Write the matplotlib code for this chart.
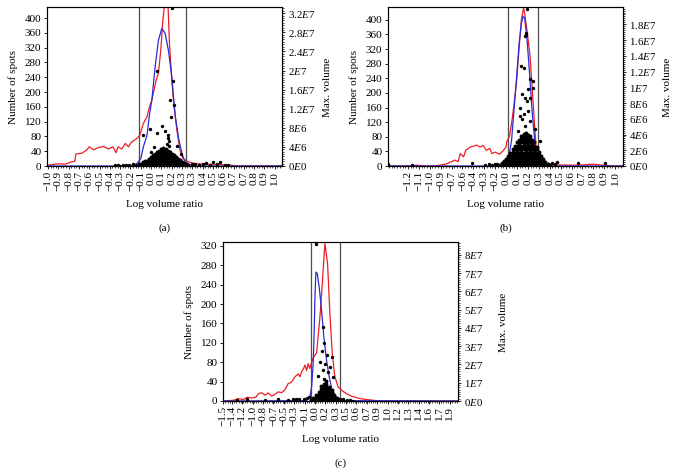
import matplotlib
matplotlib.use('Agg')
import matplotlib.pyplot as plt
from matplotlib.ticker import AutoMinorLocator

plt.rcParams['font.family'] = 'Liberation Serif'
plt.rcParams['mathtext.fontset'] = 'custom'
plt.rcParams['mathtext.rm'] = 'Liberation Serif'
plt.rcParams['mathtext.it'] = 'Liberation Serif:italic'

# x axis is the bin index of the log volume ratio, labels as printed

# ---------------- panel (a) ----------------
a_labels = ['−1.0', '−0.9', '−0.8', '−0.7', '−0.6', '−0.5', '−0.4', '−0.3', '−0.2', '−0.1',
            '0.0', '0.1', '0.2', '0.3', '0.3', '0.4', '0.5', '0.6', '0.7', '0.7', '0.8', '0.9', '1.0']
a_red_x = [-0.1, 0.0, 1.0, 1.65, 2.3, 2.6, 2.7, 3.3, 3.75, 4.0, 4.4, 4.9, 5.4, 5.85, 6.3, 6.6, 6.8,
           7.15, 7.5, 7.8, 8.1, 8.6, 8.9, 9.25, 9.6, 9.85, 10.07, 10.49, 10.71, 10.94, 11.14, 11.36,
           11.62, 11.78, 12.01, 12.17, 12.5, 12.8, 13.1, 13.6, 14.4, 15.4, 17.35, 18.5, 22.7]
a_red_y = [0, 2, 6, 5, 11, 13, 32, 35, 43, 52, 44, 50, 53, 46, 52, 36, 52,
           46, 61, 52, 65, 74, 83, 115, 133, 160, 178, 232, 251, 313, 394, 450,
           450, 332, 232, 178, 97, 43, 20, 11, 6, 5, 3, 0, 0]
a_blue_x = [-0.1, 8.0, 8.6, 9.0, 9.25, 9.6, 9.85, 10.07, 10.39, 10.71, 11.04, 11.36, 11.68, 12.01,
            12.17, 12.35, 12.7, 13.0, 13.3, 13.8, 14.3, 22.7]
a_blue_y = [0, 0, 6, 20, 52, 83, 140, 178, 268, 340, 372, 359, 313, 241,
            187, 133, 70, 33, 11, 3, 0, 0]
a_cuts = [8.83, 13.4]
# dense cloud of spots, max. volume in 1E6
a_cloud_x = [8.8, 9.0, 9.2, 9.4, 9.6, 9.8, 10.0, 10.2, 10.4, 10.6, 10.8, 11.0, 11.2, 11.4, 11.6,
             11.8, 12.0, 12.2, 12.4, 12.6, 12.8, 13.0, 13.2, 13.4, 13.6]
a_cloud_y = [[0.1, 0.4], [0.1, 0.5], [0.2, 0.6, 0.9], [0.1, 0.5, 1.0], [0.2, 0.6, 1.1],
             [0.1, 0.5, 1.0, 1.5], [0.2, 0.7, 1.2, 1.8], [0.1, 0.6, 1.1, 1.6, 2.2],
             [0.2, 0.7, 1.2, 1.8, 2.5], [0.1, 0.6, 1.1, 1.6, 2.2, 2.9],
             [0.2, 0.7, 1.3, 1.9, 2.5, 3.1], [0.1, 0.6, 1.2, 1.8, 2.4, 3.0, 3.5],
             [0.2, 0.8, 1.4, 2.0, 2.6, 3.2, 3.7], [0.1, 0.7, 1.3, 1.9, 2.5, 3.1, 3.6],
             [0.2, 0.8, 1.4, 2.0, 2.6, 3.2], [0.1, 0.7, 1.3, 1.9, 2.6, 3.0],
             [0.2, 0.8, 1.4, 2.0, 2.5], [0.1, 0.6, 1.2, 1.8, 2.2], [0.2, 0.7, 1.3, 1.8],
             [0.1, 0.6, 1.1, 1.5], [0.2, 0.7, 1.2], [0.1, 0.5, 0.9], [0.2, 0.6], [0.1, 0.5], [0.2]]
a_dots = [(6.5, 0.2), (6.8, 0.3), (7.0, 0.1), (7.3, 0.25), (7.6, 0.3), (7.9, 0.2), (8.2, 0.35),
          (8.5, 0.3), (14.0, 0.5), (14.3, 0.4), (14.6, 0.3), (15.0, 0.35), (15.3, 0.6),
          (15.7, 0.2), (16.0, 0.9), (16.4, 0.5), (16.7, 0.8), (17.2, 0.3), (17.5, 0.2),
          (12.0, 33.0), (10.6, 20.0), (12.1, 17.7), (11.85, 13.9), (12.2, 12.8), (11.95, 10.3),
          (11.1, 8.3), (11.3, 7.4), (10.55, 7.0), (9.9, 7.7), (9.2, 6.4), (11.6, 6.5),
          (11.6, 5.8), (11.7, 5.2), (11.5, 4.7), (11.7, 4.2), (9.95, 3.0), (12.5, 4.1),
          (12.9, 2.6), (10.3, 4.0)]
a_vol_ticks = [0, 4, 8, 12, 16, 20, 24, 28, 32]
a_vol_labels = ['0E0', '4E6', '8E6', '1.2E7', '1.6E7', '2E7', '2.4E7', '2.8E7', '3.2E7']

# ---------------- panel (b) ----------------
b_labels = ['−1.2', '−1.1', '−1.0', '−0.9', '−0.7', '−0.6', '−0.4', '−0.3', '−0.2', '0.0',
            '0.1', '0.2', '0.3', '0.4', '0.5', '0.6', '0.7', '0.8', '0.9', '1.0']
b_red_x = [-1.83, -0.1, 0.8, 1.7, 2.6, 3.1, 3.55, 4.0, 4.3, 4.6, 4.8, 5.1, 5.3, 5.7, 6.0, 6.3,
           6.6, 6.9, 7.2, 7.5, 7.7, 8.0, 8.4, 8.7, 9.0, 9.05, 9.3, 9.5, 9.7, 9.97, 10.2, 10.4,
           10.6, 10.7, 10.95, 11.2, 11.4, 11.6, 11.75, 11.95, 12.3, 12.7, 13.6, 15.5, 17.0,
           17.9, 19.0, 19.72]
b_red_y = [0, 0, 2, 0, 1, 3, 6, 12, 16, 12, 34, 25, 43, 52, 54, 57,
           52, 56, 43, 48, 34, 38, 32, 41, 52, 66, 80, 116, 162, 235, 327, 400,
           432, 418, 363, 299, 208, 116, 52, 20, 8, 5, 3, 2, 5,
           2, 0, 0]
b_blue_x = [-1.83, 8.9, 9.05, 9.3, 9.5, 9.7, 9.97, 10.2, 10.4, 10.55, 10.7, 10.9, 11.15, 11.4,
            11.65, 11.85, 12.1, 12.4, 19.72]
b_blue_y = [0, 0, 6, 34, 70, 144, 244, 336, 390, 409, 405, 354, 254, 144,
            61, 20, 5, 0, 0]
b_cuts = [9.17, 11.93]
b_cloud_x = [8.4, 8.6, 8.8, 9.0, 9.2, 9.4, 9.6, 9.8, 10.0, 10.2, 10.4, 10.6, 10.8, 11.0, 11.2,
             11.4, 11.6, 11.8, 12.0, 12.2, 12.4, 12.6, 12.8, 13.0]
b_cloud_y = [[0.1], [0.1, 0.4], [0.2, 0.6], [0.1, 0.5, 0.9], [0.2, 0.6, 1.0, 1.3],
             [0.1, 0.5, 0.9, 1.3, 1.6], [0.2, 0.6, 1.0, 1.4, 1.8, 2.1],
             [0.1, 0.5, 0.9, 1.3, 1.7, 2.1, 2.5], [0.2, 0.6, 1.0, 1.4, 1.8, 2.2, 2.6, 3.0],
             [0.1, 0.5, 0.9, 1.3, 1.7, 2.1, 2.5, 2.9, 3.3],
             [0.2, 0.6, 1.0, 1.4, 1.8, 2.2, 2.6, 3.0, 3.4, 3.8],
             [0.1, 0.5, 0.9, 1.3, 1.7, 2.1, 2.5, 2.9, 3.3, 3.7, 4.1],
             [0.2, 0.6, 1.0, 1.4, 1.8, 2.2, 2.6, 3.0, 3.4, 3.8, 4.2],
             [0.1, 0.5, 0.9, 1.3, 1.7, 2.1, 2.5, 2.9, 3.3, 3.7, 4.0],
             [0.2, 0.6, 1.0, 1.4, 1.8, 2.2, 2.6, 3.0, 3.4, 3.8],
             [0.1, 0.5, 0.9, 1.3, 1.7, 2.1, 2.5, 2.9, 3.3],
             [0.2, 0.6, 1.0, 1.4, 1.8, 2.2, 2.6, 3.0], [0.1, 0.5, 0.9, 1.3, 1.7, 2.1, 2.4],
             [0.2, 0.6, 1.0, 1.4, 1.8], [0.1, 0.5, 0.9, 1.3], [0.2, 0.6, 0.9], [0.1, 0.5],
             [0.2], [0.1]]
b_dots = [(-1.83, 0.25), (0.37, 0.13), (5.87, 0.38), (7.06, 0.13), (7.4, 0.2), (7.7, 0.1),
          (8.0, 0.3), (8.2, 0.2), (12.8, 0.25), (13.2, 0.4), (13.5, 0.25), (13.7, 0.5),
          (15.6, 0.4), (18.1, 0.4),
          (10.9, 20.0), (10.75, 16.5), (10.85, 16.6), (10.8, 16.9), (10.4, 12.7), (10.6, 12.4),
          (11.2, 11.0), (11.5, 10.8), (11.0, 9.8), (11.5, 9.9), (10.46, 9.1), (11.2, 8.6),
          (10.7, 8.6), (10.9, 8.3), (10.3, 7.4), (11.0, 7.0), (10.6, 6.6), (10.3, 6.3),
          (10.5, 6.0), (11.2, 5.7), (10.7, 5.1), (11.65, 4.7), (10.1, 4.5), (12.1, 3.2)]
b_vol_ticks = [0, 2, 4, 6, 8, 10, 12, 14, 16, 18]
b_vol_labels = ['0E0', '2E6', '4E6', '6E6', '8E6', '1E7', '1.2E7', '1.4E7', '1.6E7', '1.8E7']

# ---------------- panel (c) ----------------
c_labels = ['−1.5', '−1.4', '−1.2', '−1.0', '−0.8', '−0.7', '−0.5', '−0.3', '−0.1', '0.0', '0.2',
            '0.3', '0.5', '0.6', '0.7', '0.9', '1.0', '1.2', '1.3', '1.4', '1.6', '1.7', '1.9']
c_label_pos = [0.15, 1, 2, 3, 4, 5, 6, 7, 8, 9, 10, 11, 12, 13, 14, 15, 16, 17, 18, 19, 20, 21, 22]
c_red_x = [0.13, 0.16, 1.13, 1.6, 2.09, 2.5, 2.9, 3.3, 3.54, 3.85, 4.18, 4.5, 4.82, 5.15, 5.46,
           5.78, 6.1, 6.42, 6.75, 7.07, 7.39, 7.55, 7.71, 7.9, 8.03, 8.2, 8.35, 8.5, 8.68, 8.85,
           9.16, 9.48, 9.73, 9.96, 10.22, 10.44, 10.67, 10.92, 11.24, 11.57, 12.05, 12.53, 13.33,
           13.98, 15.26, 22.8]
c_red_y = [0, 0, 1.4, 5, 3, 8, 6, 8, 15, 17, 12, 16.5, 10, 14, 19,
           17, 23, 36, 39, 50, 56, 50, 60, 67, 74, 63, 77, 67, 80, 90,
           99, 173, 249, 325, 283, 180, 98, 50, 29, 22, 15, 10, 5,
           3, 0, 0]
c_blue_x = [0.13, 8.19, 8.51, 8.68, 8.83, 8.93, 9.0, 9.09, 9.22, 9.41, 9.64, 9.86, 10.12, 10.37,
            10.63, 10.92, 11.24, 11.72, 22.8]
c_blue_y = [0, 0.7, 8, 29, 77, 146, 215, 266, 263, 235, 187, 132, 84, 50,
            25, 12, 5, 0.7, 0]
c_cuts = [8.6, 11.4]
c_cloud_x = [8.6, 8.85, 9.1, 9.35, 9.6, 9.85, 10.1, 10.35, 10.6, 10.85, 11.1, 11.35]
c_cloud_y = [[0.3], [0.3, 1.8], [0.3, 1.8, 3.3], [0.3, 1.8, 3.3, 4.8],
             [0.3, 1.8, 3.3, 4.8, 6.3, 8.0], [0.3, 1.8, 3.3, 4.8, 6.3, 7.8, 9.5],
             [0.3, 1.8, 3.3, 4.8, 6.3, 7.8, 9.3, 11.0], [0.3, 1.8, 3.3, 4.8, 6.3, 7.8],
             [0.3, 1.8, 3.3, 4.8, 6.0], [0.3, 1.8, 3.3], [0.3, 1.5], [0.3]]
c_dots = [(1.45, 0.5), (2.4, 0.9), (4.2, 0.5), (5.46, 0.9), (6.4, 0.5), (6.9, 0.9), (7.2, 0.9),
          (7.5, 1.3), (7.9, 1.3), (8.2, 1.5), (8.4, 2.0), (11.4, 0.9), (11.7, 1.3), (12.05, 0.3),
          (12.4, 0.5), (12.7, 0.2),
          (9.09, 86.0), (9.8, 40.5), (9.86, 32.0), (9.64, 27.6), (10.12, 24.9), (10.0, 20.3),
          (10.44, 18.4), (10.6, 23.9), (9.48, 21.2), (10.28, 15.6), (9.8, 17.0), (9.3, 13.8),
          (10.76, 12.9), (9.9, 12.0)]
c_vol_ticks = [0, 10, 20, 30, 40, 50, 60, 70, 80]
c_vol_labels = ['0E0', '1E7', '2E7', '3E7', '4E7', '5E7', '6E7', '7E7', '8E7']

W, H = 678, 474
fig = plt.figure(figsize=(W / 100, H / 100), dpi=100)


def italic_e(s):
    return s.replace('E', r'$\mathit{E}$')


def panel(left, top, labels, label_pos, xlim, red_x, red_y, blue_x, blue_y, cuts,
          cloud_x, cloud_y, dots, ytop, ystep, vol_top, vol_ticks, vol_labels, tag):
    ax = fig.add_axes([left / W, 1 - (top + 159) / H, 235 / W, 159 / H])
    ax2 = ax.twinx()
    for c in cuts:
        ax.axvline(c, color='#4d4d4d', lw=0.9)
    ax.plot(red_x, red_y, color='#ee1c25', lw=0.9)
    ax.plot(blue_x, blue_y, color='#2b2bd6', lw=0.9)
    ax.set_xlim(xlim)
    ax.set_ylim(0, ytop)
    ax.set_yticks(range(0, int(ytop), ystep))
    ax.set_xticks(label_pos, labels, rotation=90)
    ax.xaxis.set_minor_locator(AutoMinorLocator(4))
    ax.tick_params(axis='x', which='major', length=2, width=0.6, labelsize=8, pad=1.5)
    ax.tick_params(axis='x', which='minor', length=1.2, width=0.5)
    ax.tick_params(axis='y', length=2.5, width=0.6, labelsize=8, pad=1.5)

    cx, cy = [], []
    for x, col in zip(cloud_x, cloud_y):
        for y in col:
            cx.append(x)
            cy.append(y * 1e6)
    ax2.scatter(cx, cy, s=8, color='black', lw=0, zorder=5)
    ax2.scatter([d[0] for d in dots], [d[1] * 1e6 for d in dots], s=6, color='black', lw=0,
                zorder=5)
    ax2.set_ylim(0, vol_top * 1e6)
    ax2.set_yticks([v * 1e6 for v in vol_ticks], [italic_e(l) for l in vol_labels])
    ax2.yaxis.set_minor_locator(AutoMinorLocator(8))
    ax2.tick_params(axis='y', which='major', length=2.5, width=0.6, labelsize=7.8, pad=2)
    ax2.tick_params(axis='y', which='minor', length=1.5, width=0.5)
    for a in (ax, ax2):
        for sp in a.spines.values():
            sp.set_linewidth(0.8)

    mid = left + 117.5
    fig.text(mid / W, 1 - (top + 197) / H, 'Log volume ratio', ha='center', va='center', fontsize=8)
    fig.text(mid / W, 1 - (top + 221) / H, tag, ha='center', va='center', fontsize=8)
    fig.text((left - 34) / W, 1 - (top + 80) / H, 'Number of spots', rotation=90,
             ha='center', va='center', fontsize=8)
    fig.text((left + 280) / W, 1 - (top + 80) / H, 'Max. volume', rotation=90,
             ha='center', va='center', fontsize=8)


panel(47, 7, a_labels, list(range(len(a_labels))), (-0.1, 22.7), a_red_x, a_red_y,
      a_blue_x, a_blue_y, a_cuts, a_cloud_x, a_cloud_y, a_dots, 430, 40, 33.3,
      a_vol_ticks, a_vol_labels, '(a)')
panel(388, 7, b_labels, list(range(len(b_labels))), (-1.83, 19.72), b_red_x, b_red_y,
      b_blue_x, b_blue_y, b_cuts, b_cloud_x, b_cloud_y, b_dots, 435, 40, 20.2,
      b_vol_ticks, b_vol_labels, '(b)')
panel(223, 242, c_labels, c_label_pos, (0.13, 22.8), c_red_x, c_red_y,
      c_blue_x, c_blue_y, c_cuts, c_cloud_x, c_cloud_y, c_dots, 328, 40, 87.0,
      c_vol_ticks, c_vol_labels, '(c)')

fig.savefig('out.png', dpi=100)
